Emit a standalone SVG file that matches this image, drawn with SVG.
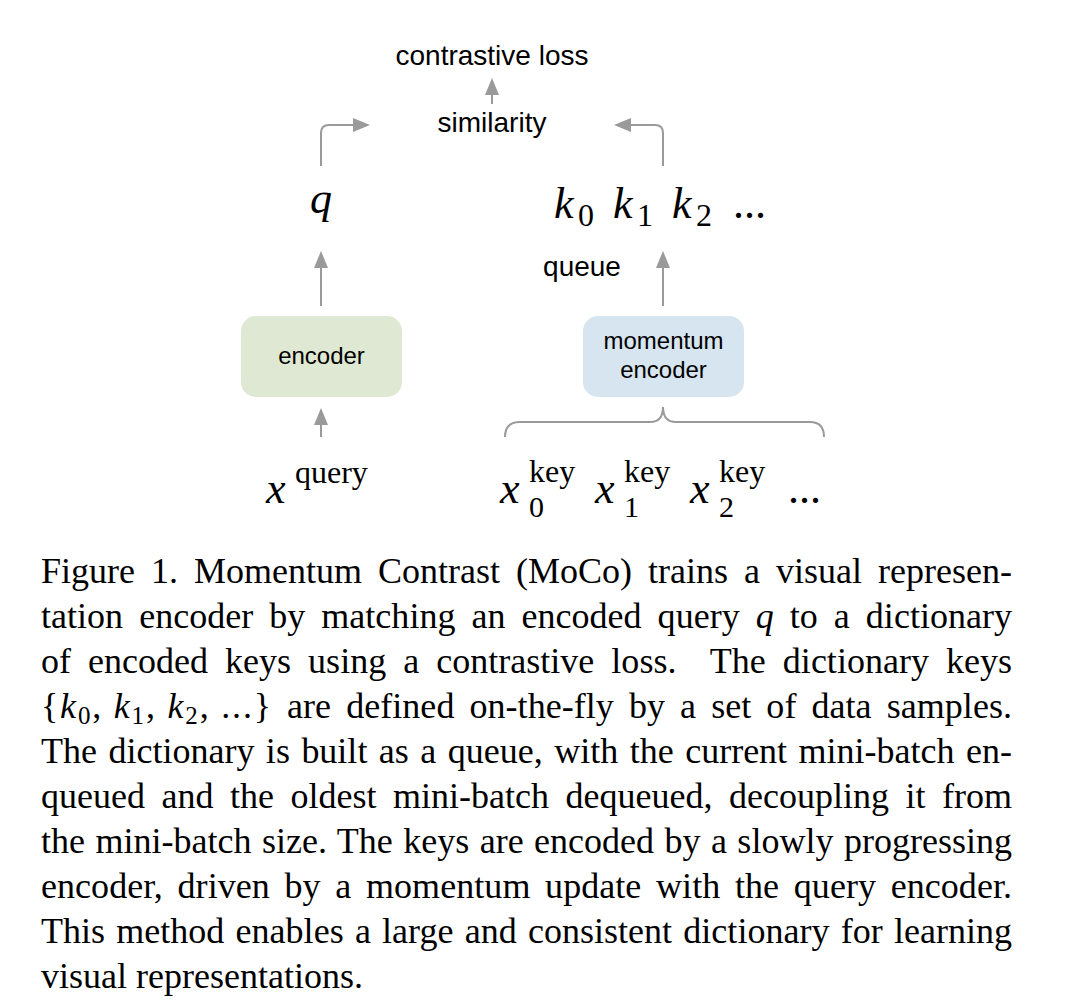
<svg xmlns="http://www.w3.org/2000/svg" width="1067" height="1008" viewBox="0 0 1067 1008">
<defs>
<style>
.lbl{font-family:"Liberation Sans",Arial,sans-serif;font-size:28px;fill:#000}
.box{font-family:"Liberation Sans",Arial,sans-serif;font-size:24px;fill:#000;text-anchor:middle}
.mi{font-family:"Liberation Serif","Times New Roman",serif;font-style:italic;font-size:44px;fill:#000}
.mr{font-family:"Liberation Serif","Times New Roman",serif;font-size:44px;fill:#000}
.sc{font-family:"Liberation Serif","Times New Roman",serif;font-size:32px;fill:#000}
.sb{font-family:"Liberation Serif","Times New Roman",serif;font-size:30px;fill:#000}
.cap{font-family:"Liberation Serif","Times New Roman",serif;font-size:36px;fill:#000}
.it{font-style:italic}
.con{fill:none;stroke:#9a9a9a;stroke-width:2}
</style>
<marker id="ah" markerWidth="17" markerHeight="14" refX="9" refY="7" orient="auto" markerUnits="userSpaceOnUse">
<path d="M0,0 L17,7 L0,14 z" fill="#9a9a9a"/>
</marker>
</defs>
<rect width="1067" height="1008" fill="#fff"/>

<g id="connectors">
<path class="con" d="M492,104 V86" marker-end="url(#ah)"/>
<path class="con" d="M321,166 V133 Q321,125 329,125 H362" marker-end="url(#ah)"/>
<path class="con" d="M663,166 V133 Q663,125 655,125 H622" marker-end="url(#ah)"/>
<path class="con" d="M321,306 V259" marker-end="url(#ah)"/>
<path class="con" d="M663,306 V259" marker-end="url(#ah)"/>
<path class="con" d="M321,437 V416" marker-end="url(#ah)"/>
<path class="con" d="M505,437 Q505,422 520,422 H650 Q663,422 663,407 Q663,422 676,422 H810 Q824,422 824,437"/>
</g>

<g id="contrastive-loss"><text class="lbl" x="492" y="65" text-anchor="middle">contrastive loss</text></g>
<g id="similarity"><text class="lbl" x="492" y="132" text-anchor="middle">similarity</text></g>
<g id="q"><text class="mi" x="310" y="213">q</text></g>
<g id="keys">
<text class="mi" x="554" y="218">k</text><text class="sc" x="578" y="226">0</text>
<text class="mi" x="613" y="218">k</text><text class="sc" x="637" y="226">1</text>
<text class="mi" x="672" y="218">k</text><text class="sc" x="696" y="226">2</text>
<text class="mr" x="733" y="218">...</text>
</g>
<g id="queue"><text class="lbl" x="582" y="276" text-anchor="middle">queue</text></g>
<g id="encoder">
<rect x="241" y="316" width="161" height="81" rx="15" fill="#dee8d3"/>
<text class="box" x="321.5" y="364">encoder</text>
</g>
<g id="momentum-encoder">
<rect x="583" y="316" width="161" height="81" rx="15" fill="#d7e5f0"/>
<text class="box" x="663.5" y="349">momentum</text>
<text class="box" x="663.5" y="378">encoder</text>
</g>
<g id="x-query">
<text class="mi" x="266" y="503">x</text><text class="sc" x="295" y="483">query</text>
</g>
<g id="x-keys">
<text class="mi" x="500" y="503">x</text><text class="sc" x="529" y="482">key</text><text class="sb" x="529" y="517">0</text>
<text class="mi" x="595" y="503">x</text><text class="sc" x="624" y="482">key</text><text class="sb" x="624" y="517">1</text>
<text class="mi" x="690" y="503">x</text><text class="sc" x="719" y="482">key</text><text class="sb" x="719" y="517">2</text>
<text class="mr" x="788" y="503">...</text>
</g>

<g id="caption">
<text class="cap" x="41" y="583" word-spacing="7" textLength="971" lengthAdjust="spacing">Figure 1. Momentum Contrast (MoCo) trains a visual represen-</text>
<text class="cap" x="41" y="628" word-spacing="7" textLength="971" lengthAdjust="spacing">tation encoder by matching an encoded query <tspan class="it">q</tspan> to a dictionary</text>
<text class="cap" x="41" y="673" word-spacing="8" textLength="971" lengthAdjust="spacing" xml:space="preserve">of encoded keys using a contrastive loss.  The dictionary keys</text>
<text class="cap" x="41" y="718" textLength="230" lengthAdjust="spacing">{<tspan class="it">k</tspan><tspan font-size="25" dy="6">0</tspan><tspan dy="-6">, </tspan><tspan class="it">k</tspan><tspan font-size="25" dy="6">1</tspan><tspan dy="-6">, </tspan><tspan class="it">k</tspan><tspan font-size="25" dy="6">2</tspan><tspan dy="-6">, ...}</tspan></text>
<text class="cap" x="287" y="718" word-spacing="6" textLength="725" lengthAdjust="spacing">are defined on-the-fly by a set of data samples.</text>
<text class="cap" x="41" y="763" word-spacing="2.5" textLength="971" lengthAdjust="spacing">The dictionary is built as a queue, with the current mini-batch en-</text>
<text class="cap" x="41" y="808" word-spacing="7.5" textLength="971" lengthAdjust="spacing">queued and the oldest mini-batch dequeued, decoupling it from</text>
<text class="cap" x="41" y="853" word-spacing="1.4" textLength="971" lengthAdjust="spacing">the mini-batch size. The keys are encoded by a slowly progressing</text>
<text class="cap" x="41" y="898" word-spacing="5.6" textLength="971" lengthAdjust="spacing">encoder, driven by a momentum update with the query encoder.</text>
<text class="cap" x="41" y="943" word-spacing="2.2" textLength="971" lengthAdjust="spacing">This method enables a large and consistent dictionary for learning</text>
<text class="cap" x="41" y="988">visual representations.</text>
</g>
</svg>
